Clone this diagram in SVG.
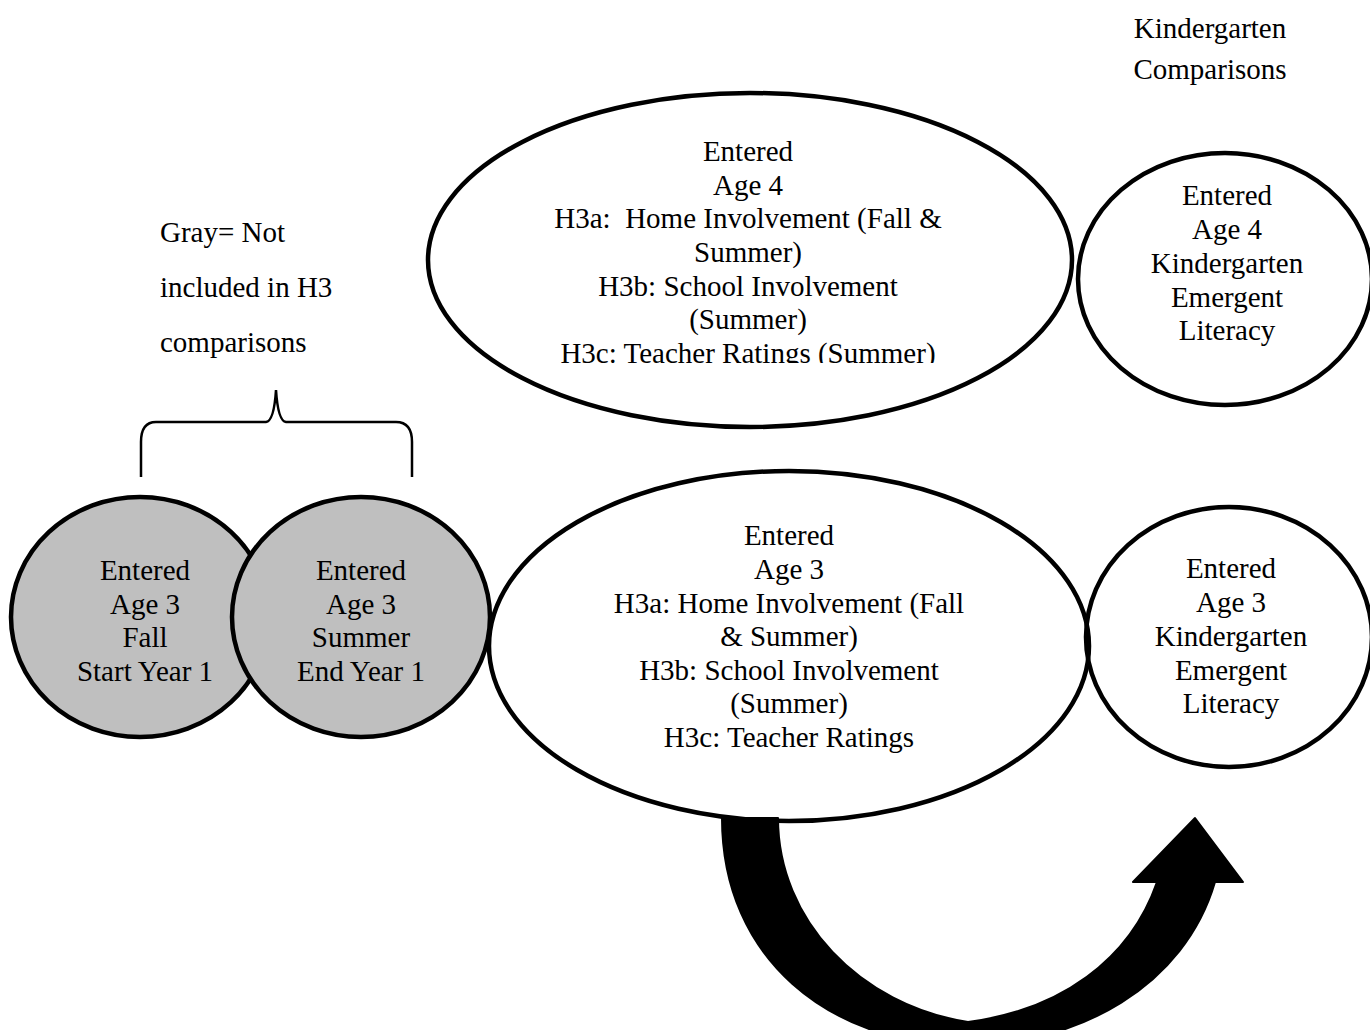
<svg xmlns="http://www.w3.org/2000/svg" width="1370" height="1030" viewBox="0 0 1370 1030">
<style>
text{font-family:"Liberation Serif","Times New Roman",serif;font-size:29px;fill:#000;text-anchor:middle}
.note{text-anchor:start}
.node{stroke:#000;stroke-width:4.5}
.gray{fill:#bfbfbf}
.open{fill:none}
</style>
<defs>
<clipPath id="clipTop"><rect x="420" y="80" width="660" height="283"/></clipPath>
</defs>
<rect width="1370" height="1030" fill="#fff"/>
<g id="legend">
<text x="1210" y="38">Kindergarten</text>
<text x="1210" y="79">Comparisons</text>
<text class="note" x="160" y="242">Gray= Not</text>
<text class="note" x="160" y="297">included in H3</text>
<text class="note" x="160" y="352">comparisons</text>
</g>
<g id="connectors">
<path d="M141,477 L141,442 Q141,422 156,422 L266,422 Q274,421 276,390 Q278,421 286,422 L396,422 Q412,422 412,442 L412,477" fill="none" stroke="#000" stroke-width="2.5"/>
</g>
<g id="node-age4">
<ellipse class="node open" cx="750" cy="260" rx="322" ry="167"/>
<g clip-path="url(#clipTop)">
<text x="748" y="161">Entered</text>
<text x="748" y="195">Age 4</text>
<text x="748" y="228" xml:space="preserve">H3a:  Home Involvement (Fall &amp;</text>
<text x="748" y="262">Summer)</text>
<text x="748" y="296">H3b: School Involvement</text>
<text x="748" y="329">(Summer)</text>
<text x="748" y="363">H3c: Teacher Ratings (Summer)</text>
</g>
</g>
<g id="node-k4">
<ellipse class="node open" cx="1225" cy="279" rx="147" ry="126"/>
<text x="1227" y="205">Entered</text>
<text x="1227" y="239">Age 4</text>
<text x="1227" y="273">Kindergarten</text>
<text x="1227" y="307">Emergent</text>
<text x="1227" y="340">Literacy</text>
</g>
<g id="node-fall">
<ellipse class="node gray" cx="140" cy="617" rx="129" ry="120"/>
<text x="145" y="580">Entered</text>
<text x="145" y="614">Age 3</text>
<text x="145" y="647">Fall</text>
<text x="145" y="681">Start Year 1</text>
</g>
<g id="node-summer">
<ellipse class="node gray" cx="361" cy="617" rx="129" ry="120"/>
<text x="361" y="580">Entered</text>
<text x="361" y="614">Age 3</text>
<text x="361" y="647">Summer</text>
<text x="361" y="681">End Year 1</text>
</g>
<g id="node-age3">
<ellipse class="node open" cx="789" cy="646" rx="300" ry="175"/>
<text x="789" y="545">Entered</text>
<text x="789" y="579">Age 3</text>
<text x="789" y="613">H3a: Home Involvement (Fall</text>
<text x="789" y="646">&amp; Summer)</text>
<text x="789" y="680">H3b: School Involvement</text>
<text x="789" y="713">(Summer)</text>
<text x="789" y="747">H3c: Teacher Ratings</text>
</g>
<g id="node-k3">
<ellipse class="node open" cx="1229" cy="637" rx="143" ry="130"/>
<text x="1231" y="578">Entered</text>
<text x="1231" y="612">Age 3</text>
<text x="1231" y="646">Kindergarten</text>
<text x="1231" y="680">Emergent</text>
<text x="1231" y="713">Literacy</text>
</g>
<g id="arrow">
<path d="M722,818 C722,960 830,1042 960,1046 C1080,1046 1185,985 1215,882 L1243,882 L1195,818 L1133,882 L1157,882 C1130,960 1060,1010 968,1022 C860,1005 778,920 778,818 Z" fill="#000" stroke="#000" stroke-width="2" stroke-linejoin="round"/>
</g>
</svg>
